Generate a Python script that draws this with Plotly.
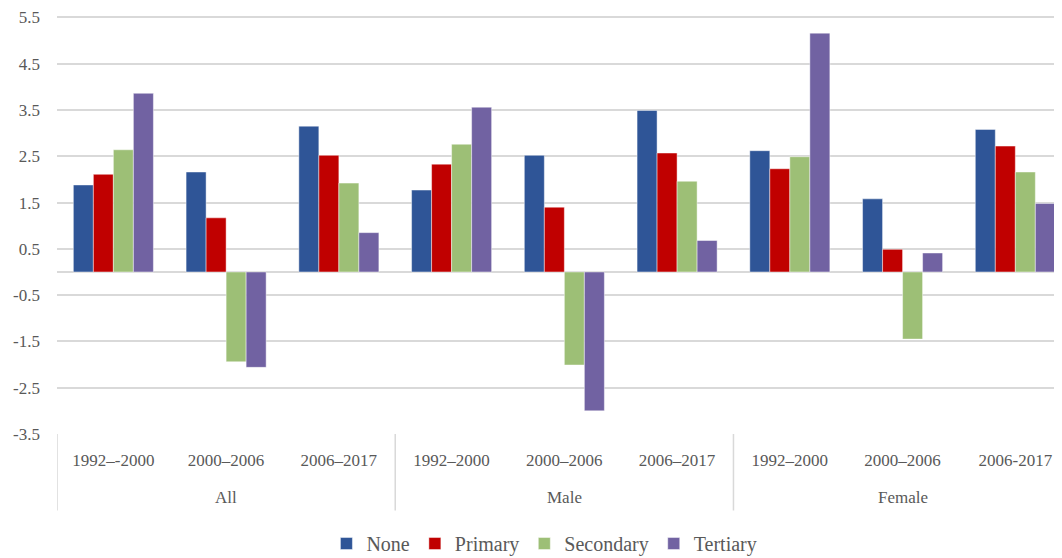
import plotly.graph_objects as go

group_names = ["All", "Male", "Female"]
groups = ["All", "All", "All", "Male", "Male", "Male", "Female", "Female", "Female"]
periods = ["1992–-2000", "2000–2006", "2006–2017",
           "1992–2000", "2000–2006", "2006–2017",
           "1992–2000", "2000–2006", "2006-2017"]

none_vals = [1.88, 2.16, 3.15, 1.77, 2.52, 3.49, 2.62, 1.58, 3.08]
primary_vals = [2.11, 1.17, 2.52, 2.33, 1.40, 2.57, 2.23, 0.49, 2.72]
secondary_vals = [2.64, -1.94, 1.92, 2.76, -2.01, 1.96, 2.49, -1.45, 2.16]
tertiary_vals = [3.86, -2.06, 0.85, 3.56, -3.00, 0.68, 5.16, 0.41, 1.48]

series = [
    ("None", none_vals, "#2F5597"),
    ("Primary", primary_vals, "#C00000"),
    ("Secondary", secondary_vals, "#9DBF76"),
    ("Tertiary", tertiary_vals, "#7162A2"),
]

y_ticks = [-3.5, -2.5, -1.5, -0.5, 0.5, 1.5, 2.5, 3.5, 4.5, 5.5]

FONT = "Liberation Serif, Noto Serif, DejaVu Serif, serif"
GREY = "#595959"
LINE = "#D9D9D9"

xpos = list(range(len(periods)))

fig = go.Figure()
for name, vals, color in series:
    fig.add_trace(go.Bar(
        x=xpos, y=vals, name=name,
        marker=dict(color=color, line=dict(color="rgba(255,255,255,0.45)", width=1)),
    ))

# group labels and dividers (derived from the group list)
n_per = {g: groups.count(g) for g in group_names}
start = 0
for g in group_names:
    n = n_per[g]
    center = start + (n - 1) / 2
    fig.add_annotation(x=center, y=-0.151, xref="x", yref="paper", text=g,
                       showarrow=False, yanchor="middle",
                       font=dict(family=FONT, size=17, color=GREY))
    fig.add_shape(type="line", xref="x", yref="paper",
                  x0=start - 0.5, x1=start - 0.5, y0=0, y1=-0.183,
                  line=dict(color=LINE, width=1.5))
    start += n
fig.add_shape(type="line", xref="x", yref="paper",
              x0=start - 0.5, x1=start - 0.5, y0=0, y1=-0.183,
              line=dict(color=LINE, width=1.5))

fig.update_layout(
    width=1054, height=550,
    margin=dict(l=49, r=0, t=8, b=124, autoexpand=False),
    paper_bgcolor="white", plot_bgcolor="white",
    barmode="group", bargap=0.29, bargroupgap=0,
    font=dict(family=FONT, size=17, color=GREY),
    showlegend=True,
    legend=dict(orientation="h", x=0.485, xanchor="center", y=-0.262, yanchor="middle",
                font=dict(family=FONT, size=20, color=GREY),
                itemwidth=30, tracegroupgap=0),
    xaxis=dict(
        range=[-0.5, 8.414], tickvals=xpos, ticktext=periods,
        showgrid=False, showline=False, zeroline=False, ticks="",
        ticklabelstandoff=14, automargin=False,
        tickfont=dict(family=FONT, size=17, color=GREY),
    ),
    yaxis=dict(
        range=[-3.5, 5.53], tickvals=y_ticks,
        ticktext=[f"{v:.1f}" for v in y_ticks],
        showgrid=True, gridcolor=LINE, gridwidth=1.5,
        zeroline=True, zerolinecolor=LINE, zerolinewidth=1.5,
        showline=False, ticks="", automargin=False,
        ticklabelstandoff=16, ticklabeloverflow="allow",
        tickfont=dict(family=FONT, size=17, color=GREY),
    ),
)

fig.write_html("out.html")
